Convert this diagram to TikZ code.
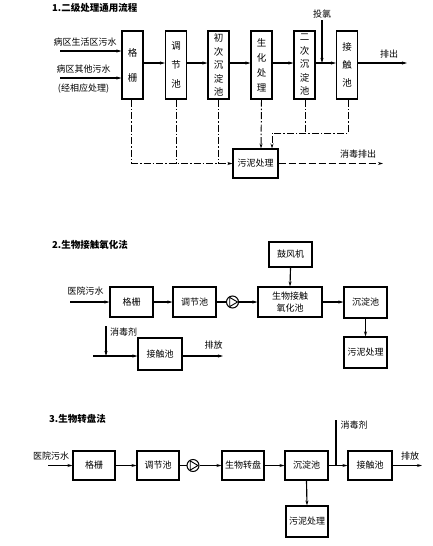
\documentclass[tikz,border=0pt]{standalone}
\usepackage{fontspec}
\setmainfont{Noto Sans CJK SC}
\usetikzlibrary{arrows.meta,calc}
\begin{document}
\begin{tikzpicture}[x=1pt,y=-1pt,
  every node/.style={inner sep=0pt},
  box/.style={draw, line width=1.05pt, align=center, font=\fontsize{9}{11}\selectfont},
  vbox/.style={box, minimum width=21pt, minimum height=68pt},
  hbox/.style={box, minimum width=43pt, minimum height=30pt},
  lbl/.style={font=\fontsize{9}{11}\selectfont},
  ttl/.style={font=\fontsize{9.5}{11}\selectfont\bfseries, anchor=west},
  flow/.style={line width=1.15pt, -{Stealth[length=5pt,width=3pt]}},
  ln/.style={line width=1.15pt},
  dd/.style={line width=0.95pt, dash pattern=on 7pt off 2pt on 1.5pt off 2pt},
  ld/.style={line width=0.95pt, dash pattern=on 7pt off 3pt},
  pump/.style={draw, circle, line width=1pt, minimum size=12pt},
]
\useasboundingbox (0,0) rectangle (432,546);

% ---------------- Section 1 ----------------
\node[ttl] (t1) at (52,8) {1.二级处理通用流程};
\node[vbox, font=\fontsize{9.5}{25}\selectfont] (g1) at (132.5,65) {格\\栅};
\node[vbox, font=\fontsize{9.5}{19}\selectfont] (a1) at (176,65) {调\\节\\池};
\node[vbox, font=\fontsize{9.5}{13.5}\selectfont] (c1) at (218.5,65) {初\\次\\沉\\淀\\池};
\node[vbox, font=\fontsize{9.5}{15}\selectfont] (s1) at (261.5,65) {生\\化\\处\\理};
\node[vbox, font=\fontsize{9.5}{13.5}\selectfont] (e1) at (304.5,65) {二\\次\\沉\\淀\\池};
\node[vbox, font=\fontsize{9.5}{18}\selectfont] (j1) at (347,65) {接\\触\\池};
\node[box, minimum width=45pt, minimum height=29pt] (m1) at (255.5,163.5) {污泥处理};

\node[lbl] (in1a) at (85,42) {病区生活区污水};
\node[lbl] (in1b) at (83.5,69) {病区其他污水};
\node[lbl] (in1c) at (83.5,89) {(经相应处理)};
\coordinate (s1a) at (60,51);
\coordinate (s1b) at (60,78);
\draw[flow] (s1a) -- (s1a -| g1.west);
\draw[flow] (s1b) -- (s1b -| g1.west);

\draw[flow] (g1.east |- 0,63) -- (a1.west |- 0,63);
\draw[flow] (a1.east |- 0,63) -- (c1.west |- 0,63);
\draw[flow] (c1.east |- 0,63) -- (s1.west |- 0,63);
\draw[flow] (s1.east |- 0,63) -- (e1.west |- 0,63);
\draw[flow] (e1.east |- 0,63) -- (j1.west |- 0,63);
\node[lbl] (tl) at (322,14) {投氯};
\coordinate (tla) at (322,20);
\draw[flow] (tla) -- (322,63);
\node[lbl] (pc1) at (389,54) {排出};
\coordinate (pc1e) at (407,63);
\draw[flow] (j1.east |- 0,63) -- (pc1e);

% sludge (dashed)
\coordinate (k1) at (131,163.5);
\draw[dd] (131,0 |- g1.south) -- (k1);
\draw[dd, -{Stealth[length=5pt,width=3pt]}] (k1) -- (m1.west);
\draw[dd] (176,0 |- a1.south) -- (176,163.5);
\draw[dd] (218,0 |- c1.south) -- (218,163.5);
\draw[dd, -{Stealth[length=5pt,width=3pt]}] (s1.south) -- (261,0 |- m1.north);
\draw[dd] (305,0 |- e1.south) -- (305,133);
\draw[dd, -{Stealth[length=5pt,width=3pt]}] (348,0 |- j1.south) -- (348,133) -- (272,133) -- (272,0 |- m1.north);
\node[lbl] (xd) at (358,154) {消毒排出};
\coordinate (xde) at (383,163.5);
\draw[ld, -{Stealth[length=5pt,width=3pt]}] (m1.east) -- (xde);

% ---------------- Section 2 ----------------
\node[ttl] (t2) at (52,245) {2.生物接触氧化法};
\node[hbox, minimum height=25pt] (b2) at (290.5,254.5) {鼓风机};
\node[hbox] (g2) at (131.5,302) {格栅};
\node[hbox] (a2) at (194.5,302) {调节池};
\node[pump] (p2) at (232.5,302) {};
\draw[line width=0.9pt] ($(p2)+(5,0)$) -- ($(p2)+(-2.8,4.6)$) -- ($(p2)+(-2.8,-4.6)$) -- cycle;
\node[hbox, minimum width=64pt, font=\fontsize{9}{12}\selectfont] (s2) at (290,302) {生物接触\\氧化池};
\node[hbox, minimum height=31pt] (d2) at (365.5,302.5) {沉淀池};
\node[hbox, minimum height=31pt] (m2) at (365.5,352.5) {污泥处理};
\node[hbox, minimum width=44pt, minimum height=32pt] (j2) at (160,354) {接触池};

\node[lbl] (in2) at (85.5,291) {医院污水};
\coordinate (in2s) at (70,302);
\draw[flow] (in2s) -- (g2.west);
\draw[flow] (g2.east) -- (a2.west);
\draw[ln] (a2.east) -- (p2.west);
\draw[flow] (p2.east) -- (s2.west);
\draw[flow] (s2.east) -- (d2.west |- s2.east);
\draw[flow] (b2.south) -- (s2.north);
\draw[flow] (d2.south) -- (m2.north);

\node[lbl] (xd2) at (123.5,332) {消毒剂};
\coordinate (xd2s) at (106,326);
\coordinate (xd2e) at (106,356);
\coordinate (in2b) at (93,356);
\draw[flow] (xd2s) -- (xd2e);
\draw[flow] (in2b) -- (j2.west |- in2b);
\node[lbl] (pf2) at (213.5,345) {排放};
\coordinate (pf2e) at (223,356);
\draw[flow] (j2.east |- pf2e) -- (pf2e);

% ---------------- Section 3 ----------------
\node[ttl] (t3) at (49,419) {3.生物转盘法};
\node[hbox, minimum width=42pt, minimum height=29pt] (g3) at (94,465.5) {格栅};
\node[hbox, minimum width=42pt, minimum height=29pt] (a3) at (158,465.5) {调节池};
\node[pump] (p3) at (193,465.5) {};
\draw[line width=0.9pt] ($(p3)+(5,0)$) -- ($(p3)+(-2.8,4.6)$) -- ($(p3)+(-2.8,-4.6)$) -- cycle;
\node[hbox, minimum width=42pt, minimum height=29pt] (s3) at (243,465.5) {生物转盘};
\node[hbox, minimum width=43pt, minimum height=29pt] (d3) at (306.5,465.5) {沉淀池};
\node[hbox, minimum width=44pt, minimum height=29pt] (j3) at (370,465.5) {接触池};
\node[hbox, minimum width=42pt, minimum height=31pt] (m3) at (307,521.5) {污泥处理};

\node[lbl] (in3) at (51,456) {医院污水};
\coordinate (in3s) at (48,465.5);
\draw[flow] (in3s) -- (g3.west);
\draw[flow] (g3.east) -- (a3.west);
\draw[ln] (a3.east) -- (p3.west);
\draw[flow] (p3.east) -- (s3.west);
\draw[flow] (s3.east) -- (d3.west);
\draw[flow] (d3.east) -- (j3.west);
\draw[flow] (d3.south) -- (m3.north);
\node[lbl] (xd3) at (354,425) {消毒剂};
\coordinate (xd3s) at (336,420);
\draw[ln] (xd3s) -- (336,465.5);
\node[lbl] (pf3) at (410,456) {排放};
\coordinate (pf3e) at (422,465.5);
\draw[flow] (j3.east) -- (pf3e);
\end{tikzpicture}
\end{document}
